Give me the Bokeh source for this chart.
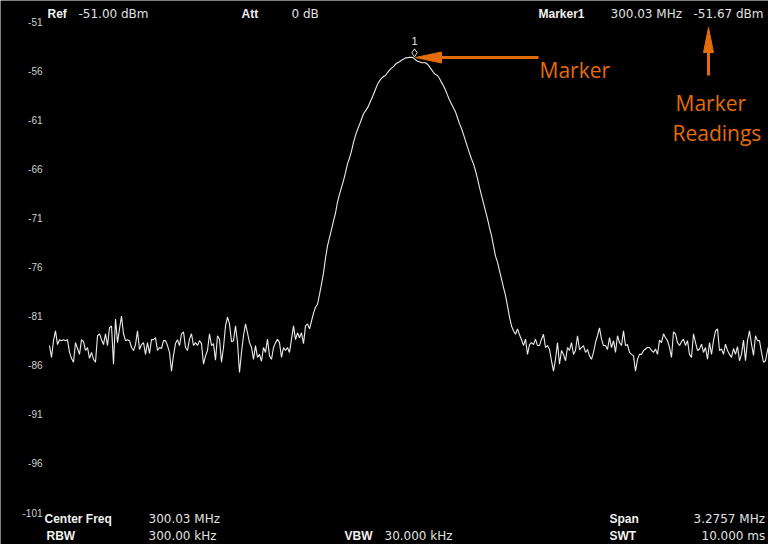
import numpy as np
from bokeh.plotting import figure
from bokeh.models import Range1d
from bokeh.core.properties import value
from bokeh.embed import file_html
from bokeh.resources import INLINE

# ---------------- data ----------------
center_freq_mhz = 300.03
span_mhz = 3.2757
ref_level_dbm = -51.0
db_per_div = 5.0

y_ticks = [-51, -56, -61, -66, -71, -76, -81, -86, -91, -96, -101]
y_tick_labels = ["-51", "-56", "-61", "-66", "-71", "-76", "-81", "-86", "-91", "-96", "-101"]

# trace levels (dBm), evenly spaced over the span, left to right
level_left = [
    -84.0, -85.2, -83.5, -82.5, -83.9, -83.4, -83.5, -83.4, -83.5, -83.4,
    -84.7, -85.3, -85.7, -83.7, -84.3, -84.9, -83.4, -83.6, -84.5, -84.2,
    -85.3, -84.7, -85.4, -85.7, -83.0, -82.8, -83.4, -83.9, -82.8, -84.0,
    -82.2, -82.0, -85.9, -81.3, -83.7, -82.3, -81.0, -82.8, -83.5, -83.4,
    -83.5, -84.2, -84.5, -83.9, -82.5, -84.4, -83.9, -83.7, -84.9, -83.7,
    -84.8, -83.4, -83.4, -83.2, -84.5, -84.2, -84.3, -83.5, -83.5, -84.0,
    -84.7, -86.6, -85.0, -83.8, -83.4,
    -84.0, -82.8, -82.6, -84.2, -84.5, -83.35, -82.8, -84.0, -83.7, -84.0,
    -83.5, -83.8, -85.9, -85.05, -84.5, -82.8, -84.0, -83.8, -85.5, -83.0,
    -83.35, -85.7, -84.2, -82.0, -81.1, -81.8, -83.6, -83.5, -82.0, -83.7,
    -86.75, -84.7, -83.0, -81.8, -82.7, -83.7, -84.2, -85.4, -84.0, -85.2,
    -84.9, -85.6, -84.2, -84.7, -83.35, -85.05, -85.4, -84.2, -83.7, -83.35,
    -83.7, -85.2, -84.2, -84.5, -84.2, -84.7, -83.35, -82.0, -83.4, -82.7,
    -83.2, -82.7, -83.8, -82.0, -81.8, -82.3,
]
level_peak = [
    -81.5, -80.7, -80.1, -79.8, -78.8, -77.75, -76.6, -75.1, -73.85, -73.0,
    -72.2, -71.3, -70.5, -69.4, -68.6, -67.9, -67.2, -66.4, -65.5, -64.9,
    -64.2, -63.3, -62.6, -62.0, -61.5, -60.95, -60.4, -60.1, -59.8, -59.35,
    -58.9, -58.4, -57.9, -57.4, -57.05, -56.8, -56.6, -56.5, -56.2, -55.95,
    -55.75, -55.6, -55.35, -55.2, -55.1, -54.95, -54.85, -54.7, -54.7, -54.65,
    -54.65, -54.7, -54.9, -55.05, -55.1, -55.2, -55.2, -55.2, -55.35, -55.6,
    -55.9, -56.2, -56.4, -56.5, -56.8, -57.2, -57.55, -58.0, -58.5, -59.0,
    -59.4, -59.8, -60.2, -60.8, -61.4, -61.9, -62.5, -63.15, -63.8, -64.4,
    -65.0, -65.5, -66.2, -67.0, -67.9, -68.7, -69.5, -70.3, -71.1, -72.0,
    -72.8, -73.85, -74.9, -75.5, -76.4, -77.2, -78.1, -78.9, -79.95, -81.1,
]
level_right = [
    -82.0, -82.5, -82.85, -82.3, -82.9, -83.4, -84.0, -83.35, -84.9, -83.9,
    -83.7, -83.9, -83.35, -84.0, -84.0, -83.35, -82.85, -84.2, -84.0, -84.4,
    -85.55, -86.6, -85.4, -83.7, -85.9, -84.5, -84.9, -85.55, -84.2, -84.5,
    -83.7, -84.9, -84.5, -83.0, -84.4, -84.2, -84.0, -84.7, -84.4, -85.05,
    -85.4, -84.7, -83.7, -83.0, -82.2, -83.35, -84.0, -84.0, -84.4, -83.2,
    -84.2, -83.5, -84.7, -83.0, -83.7, -84.0, -82.5, -84.0, -83.9, -84.7,
    -84.9, -85.05, -86.6, -85.4,
    -84.9, -84.9, -84.5, -84.35, -84.2, -84.2, -84.5, -84.7, -84.35, -84.9,
    -83.45, -83.7, -82.8, -83.2, -83.5, -84.2, -85.2, -82.6, -82.8, -83.7,
    -84.0, -83.6, -83.35, -84.0, -83.5, -84.9, -85.2, -82.8, -83.7, -84.5,
    -84.35, -83.85, -84.7, -84.2, -85.4, -83.7, -84.9, -83.5, -82.5, -82.3,
    -84.5, -84.35, -84.9, -83.85, -84.5, -84.9, -85.2, -84.3, -84.9, -84.1,
    -85.55, -84.9, -83.45, -85.55, -83.5, -82.5, -83.85, -85.0, -83.0, -83.5,
    -83.5, -84.7, -85.7, -85.55, -84.5, -83.7, -83.6, -84.7, -84.2, -84.0,
    -84.3,
]
level_dbm = level_left + level_peak + level_right

marker_freq_mhz = 300.03
marker_name = "1"

header_labels = ["Ref", "Att", "Marker1"]
header_values = ["-51.00 dBm", "0 dB", "300.03 MHz", "-51.67 dBm"]
footer_labels = ["Center Freq", "RBW", "VBW", "Span", "SWT"]
footer_values = ["300.03 MHz", "300.00 kHz", "30.000 kHz", "3.2757 MHz", "10.000 ms"]

# ---------------- layout (screen geometry) ----------------
W, H = 768, 544
PAGE = 8                      # page margin
GRID_LEFT = 57                # page x of first sweep point
GRID_W = 730                  # page px across the span
REF_Y = 29                    # page y of the reference level
PX_PER_DB = 491.0 / 50.0

px_per_mhz = GRID_W / span_mhz
f_start = center_freq_mhz - span_mhz / 2
f_stop = center_freq_mhz + span_mhz / 2

x0 = f_start - (GRID_LEFT - PAGE) / px_per_mhz
x1 = x0 + W / px_per_mhz
y1 = ref_level_dbm + (REF_Y - PAGE) / PX_PER_DB
y0 = y1 - H / PX_PER_DB


def X(px):
    return x0 + (px - PAGE) / px_per_mhz


def Y(py):
    return y1 - (py - PAGE) / PX_PER_DB


p = figure(width=W, height=H, output_backend="svg", toolbar_location=None,
           x_range=Range1d(x0, x1), y_range=Range1d(y0, y1),
           x_axis_location=None, y_axis_location=None, min_border=0)
p.background_fill_color = "black"
p.border_fill_color = "black"
p.outline_line_color = None
p.xgrid.visible = False
p.ygrid.visible = False

freq = np.linspace(f_start, f_stop, len(level_dbm))
p.line(freq, level_dbm, line_color="#ececec", line_width=1.1)

# y tick labels
TICK_FONT = value("Liberation Sans")
p.text(x=[X(50)] * len(y_ticks), y=y_ticks, text=y_tick_labels,
       text_align="right", text_baseline="middle", text_font=TICK_FONT,
       text_font_size="10px", text_color="#d0d0d0")

# marker
peak_level = max(level_dbm)
mk_y = peak_level + 4.5 / PX_PER_DB
p.scatter([marker_freq_mhz], [mk_y], marker="diamond", size=8,
          fill_color=None, line_color="#e0e0e0", line_width=1)
p.text(x=[marker_freq_mhz], y=[mk_y + 8 / PX_PER_DB], text=[marker_name],
       text_align="center", text_baseline="bottom", text_font=TICK_FONT,
       text_font_size="11px", text_color="#e6e6e6")

LBL_FONT = value("Liberation Sans")
VAL_FONT = value("DejaVu Sans")
hdr_y = Y(21)
p.text(x=[X(55), X(249), X(546)], y=[hdr_y] * 3, text=header_labels,
       text_align="left", text_baseline="middle", text_font=LBL_FONT,
       text_font_style="bold", text_font_size="12px", text_color="#f0f0f0")
p.text(x=[X(86), X(299), X(618), X(701)], y=[hdr_y] * 4, text=header_values,
       text_align="left", text_baseline="middle", text_font=VAL_FONT,
       text_font_size="12px", text_color="#e0e0e0")

f1, f2 = Y(526), Y(543)
p.text(x=[X(52), X(54), X(352), X(617), X(617)], y=[f1, f2, f2, f1, f2],
       text=footer_labels, text_align="left", text_baseline="middle",
       text_font=LBL_FONT, text_font_style="bold", text_font_size="12px",
       text_color="#f0f0f0")
p.text(x=[X(156), X(156), X(392), X(701), X(709)], y=[f1, f2, f2, f1, f2],
       text=footer_values, text_align="left", text_baseline="middle",
       text_font=VAL_FONT, text_font_size="12px", text_color="#e0e0e0")

# orange call-outs
ORANGE = "#e36c0a"
arr_y = Y(65)
p.segment(x0=[X(446)], y0=[arr_y], x1=[X(546)], y1=[arr_y],
          line_color=ORANGE, line_width=3)
p.patch([X(423), X(449), X(449)], [arr_y, arr_y + 5.5 / PX_PER_DB, arr_y - 5.5 / PX_PER_DB],
        fill_color=ORANGE, line_color=ORANGE)
p.segment(x0=[X(716)], y0=[Y(58)], x1=[X(716)], y1=[Y(83)],
          line_color=ORANGE, line_width=3)
p.patch([X(716), X(711), X(721)], [Y(35), Y(60), Y(60)],
        fill_color=ORANGE, line_color=ORANGE)

CALL_FONT = value("Open Sans")
p.text(x=[X(547), X(683), X(680)], y=[Y(77), Y(110), Y(140)],
       text=["Marker", "Marker", "Readings"], text_align="left",
       text_baseline="alphabetic", text_font=CALL_FONT,
       text_font_size="21px", text_color=ORANGE)

open("out.html", "w").write(file_html(p, INLINE))
